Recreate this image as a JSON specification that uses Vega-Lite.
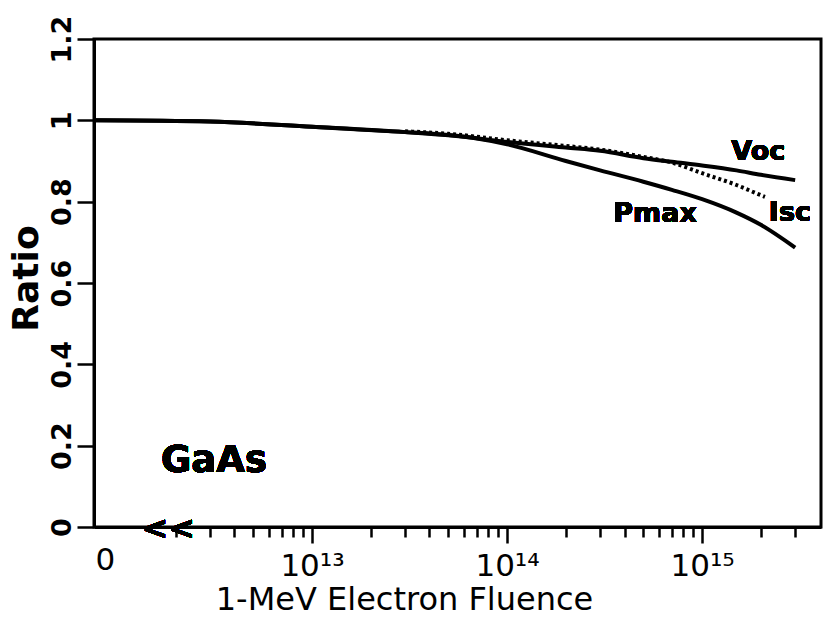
{
  "$schema": "https://vega.github.io/schema/vega-lite/v6.json",
  "width": 727,
  "height": 488,
  "autosize": {"type": "none"},
  "padding": {"left": 94, "top": 39, "right": 2, "bottom": 91},
  "background": "white",
  "config": {
    "font": "DejaVu Sans",
    "view": {"stroke": "black", "strokeWidth": 3},
    "axis": {"grid": false, "domainColor": "black", "domainWidth": 3, "tickColor": "black", "tickWidth": 2.5, "labelColor": "black", "titleColor": "black", "labelFlush": false, "labelOverlap": false, "labelBound": false}
  },
  "data": {
    "values": [
      {"series": "Voc", "fluence": 7.62e11, "ratio": 1.0},
      {"series": "Voc", "fluence": 3e12, "ratio": 0.997},
      {"series": "Voc", "fluence": 1e13, "ratio": 0.984},
      {"series": "Voc", "fluence": 3e13, "ratio": 0.971},
      {"series": "Voc", "fluence": 5e13, "ratio": 0.964},
      {"series": "Voc", "fluence": 1e14, "ratio": 0.947},
      {"series": "Voc", "fluence": 2e14, "ratio": 0.933},
      {"series": "Voc", "fluence": 3e14, "ratio": 0.925},
      {"series": "Voc", "fluence": 5e14, "ratio": 0.907},
      {"series": "Voc", "fluence": 7e14, "ratio": 0.898},
      {"series": "Voc", "fluence": 1e15, "ratio": 0.889},
      {"series": "Voc", "fluence": 1.5e15, "ratio": 0.877},
      {"series": "Voc", "fluence": 2e15, "ratio": 0.866},
      {"series": "Voc", "fluence": 3e15, "ratio": 0.853},
      {"series": "Pmax", "fluence": 7.62e11, "ratio": 1.0},
      {"series": "Pmax", "fluence": 3e12, "ratio": 0.997},
      {"series": "Pmax", "fluence": 1e13, "ratio": 0.984},
      {"series": "Pmax", "fluence": 3e13, "ratio": 0.971},
      {"series": "Pmax", "fluence": 5e13, "ratio": 0.963},
      {"series": "Pmax", "fluence": 7e13, "ratio": 0.955},
      {"series": "Pmax", "fluence": 1e14, "ratio": 0.941},
      {"series": "Pmax", "fluence": 2e14, "ratio": 0.9},
      {"series": "Pmax", "fluence": 3e14, "ratio": 0.877},
      {"series": "Pmax", "fluence": 5e14, "ratio": 0.849},
      {"series": "Pmax", "fluence": 7e14, "ratio": 0.829},
      {"series": "Pmax", "fluence": 1e15, "ratio": 0.806},
      {"series": "Pmax", "fluence": 1.5e15, "ratio": 0.773},
      {"series": "Pmax", "fluence": 2e15, "ratio": 0.743},
      {"series": "Pmax", "fluence": 3e15, "ratio": 0.687},
      {"series": "Isc", "fluence": 3e13, "ratio": 0.973},
      {"series": "Isc", "fluence": 5e13, "ratio": 0.967},
      {"series": "Isc", "fluence": 1e14, "ratio": 0.951},
      {"series": "Isc", "fluence": 2e14, "ratio": 0.937},
      {"series": "Isc", "fluence": 3e14, "ratio": 0.928},
      {"series": "Isc", "fluence": 5e14, "ratio": 0.91},
      {"series": "Isc", "fluence": 7e14, "ratio": 0.896},
      {"series": "Isc", "fluence": 1e15, "ratio": 0.87},
      {"series": "Isc", "fluence": 1.5e15, "ratio": 0.841},
      {"series": "Isc", "fluence": 2e15, "ratio": 0.816},
      {"series": "Isc", "fluence": 2.1e15, "ratio": 0.812}
    ]
  },
  "encoding": {
    "x": {
      "field": "fluence",
      "type": "quantitative",
      "scale": {"type": "log", "domain": [7.62e11, 4.07e15], "nice": false},
      "axis": {
        "title": "1-MeV Electron Fluence",
        "titleFontSize": 32,
        "titleFontWeight": "normal",
        "titleX": 310,
        "titleY": 82,
        "titleAlign": "center",
        "titleBaseline": "alphabetic",
        "values": [8.67e11, 2e12, 3e12, 4e12, 5e12, 6e12, 7e12, 8e12, 9e12, 1e13, 2e13, 3e13, 4e13, 5e13, 6e13, 7e13, 8e13, 9e13, 1e14, 2e14, 3e14, 4e14, 5e14, 6e14, 7e14, 8e14, 9e14, 1e15, 2e15, 3e15],
        "labelExpr": "datum.value < 1e12 ? '0' : datum.value == 1e13 ? '10¹³' : datum.value == 1e14 ? '10¹⁴' : datum.value == 1e15 ? '10¹⁵' : ''",
        "labelFontSize": 31,
        "labelBaseline": "alphabetic",
        "labelPadding": 32,
        "tickSize": {"condition": {"test": "datum.value == 1e13 || datum.value == 1e14 || datum.value == 1e15", "value": 16}, "value": 10},
        "tickOpacity": {"condition": {"test": "datum.value < 1e12", "value": 0}, "value": 1}
      }
    },
    "y": {
      "field": "ratio",
      "type": "quantitative",
      "scale": {"domain": [0, 1.2], "nice": false},
      "axis": {
        "title": "Ratio",
        "titleFontSize": 36,
        "titleFontWeight": "bold",
        "titleAngle": -90,
        "titleX": -57,
        "titleY": 239,
        "titleAlign": "center",
        "titleBaseline": "alphabetic",
        "values": [0, 0.2, 0.4, 0.6, 0.8, 1, 1.2],
        "format": "~g",
        "labelAngle": -90,
        "labelAlign": "center",
        "labelBaseline": "alphabetic",
        "labelFontSize": 27,
        "labelFontWeight": "bold",
        "tickSize": 17,
        "labelPadding": 7
      }
    }
  },
  "layer": [
    {
      "transform": [{"filter": "datum.series != 'Isc'"}],
      "mark": {"type": "line", "color": "black", "strokeWidth": 4, "interpolate": "monotone"},
      "encoding": {"detail": {"field": "series"}}
    },
    {
      "transform": [{"filter": "datum.series == 'Isc'"}],
      "mark": {"type": "line", "color": "black", "strokeWidth": 4, "strokeDash": [3, 3], "interpolate": "monotone"},
      "encoding": {"detail": {"field": "series"}}
    },
    {
      "mark": {"type": "text", "font": "DejaVu Sans", "fontWeight": "bold", "fontSize": 27, "align": "center", "baseline": "middle", "color": "black"},
      "encoding": {"x": {"datum": 1.94e15, "type": "quantitative"}, "y": {"datum": 0.923, "type": "quantitative"}, "text": {"value": "Voc"}}
    },
    {
      "mark": {"type": "text", "font": "DejaVu Sans", "fontWeight": "bold", "fontSize": 27, "align": "center", "baseline": "middle", "color": "black"},
      "encoding": {"x": {"datum": 5.74e14, "type": "quantitative"}, "y": {"datum": 0.769, "type": "quantitative"}, "text": {"value": "Pmax"}}
    },
    {
      "mark": {"type": "text", "font": "DejaVu Sans", "fontWeight": "bold", "fontSize": 27, "align": "center", "baseline": "middle", "color": "black"},
      "encoding": {"x": {"datum": 2.82e15, "type": "quantitative"}, "y": {"datum": 0.771, "type": "quantitative"}, "text": {"value": "Isc"}}
    },
    {
      "mark": {"type": "text", "font": "DejaVu Sans", "fontWeight": "bold", "fontSize": 37, "align": "center", "baseline": "middle", "color": "black"},
      "encoding": {"x": {"datum": 3.14e12, "type": "quantitative"}, "y": {"datum": 0.162, "type": "quantitative"}, "text": {"value": "GaAs"}}
    },
    {
      "mark": {"type": "text", "font": "DejaVu Sans", "fontWeight": "bold", "fontSize": 32, "align": "center", "baseline": "alphabetic", "dy": 12, "color": "black"},
      "encoding": {"x": {"datum": 1.83e12, "type": "quantitative"}, "y": {"datum": 0, "type": "quantitative"}, "text": {"value": "<<"}}
    }
  ]
}
